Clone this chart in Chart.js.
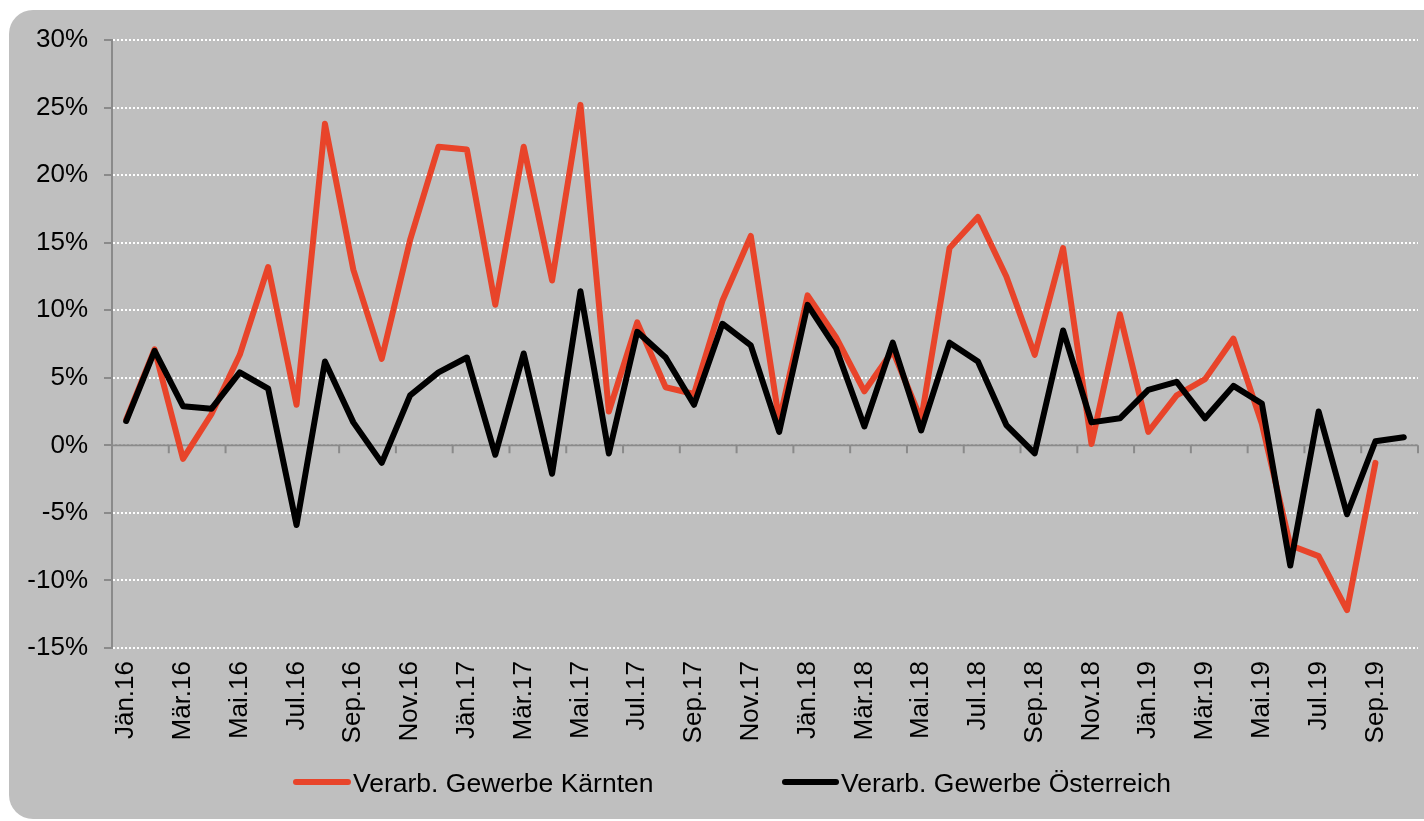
<!DOCTYPE html>
<html>
<head>
<meta charset="utf-8">
<script src="https://cdn.jsdelivr.net/npm/chart.js@4/dist/chart.umd.min.js"></script>
<style>
  html, body { margin: 0; padding: 0; background: #ffffff; }
  #wrap { position: relative; width: 1424px; height: 821px; }
</style>
</head>
<body>
<div id="wrap"><canvas id="c" width="1424" height="821"></canvas></div>
<script>
const categories = [
  "Jän.16","Feb.16","Mär.16","Apr.16","Mai.16","Jun.16","Jul.16","Aug.16","Sep.16","Okt.16","Nov.16","Dez.16",
  "Jän.17","Feb.17","Mär.17","Apr.17","Mai.17","Jun.17","Jul.17","Aug.17","Sep.17","Okt.17","Nov.17","Dez.17",
  "Jän.18","Feb.18","Mär.18","Apr.18","Mai.18","Jun.18","Jul.18","Aug.18","Sep.18","Okt.18","Nov.18","Dez.18",
  "Jän.19","Feb.19","Mär.19","Apr.19","Mai.19","Jun.19","Jul.19","Aug.19","Sep.19","Okt.19"
];
const kaernten = [
  1.9, 7.1, -1.0, 2.3, 6.7, 13.2, 3.0, 23.8, 13.0, 6.4, 15.2, 22.1,
  21.9, 10.4, 22.1, 12.2, 25.2, 2.5, 9.1, 4.3, 3.8, 10.7, 15.5, 1.8,
  11.1, 8.0, 4.0, 7.0, 1.9, 14.6, 16.9, 12.5, 6.7, 14.6, 0.1, 9.7,
  1.0, 3.7, 4.9, 7.9, 1.6, -7.4, -8.2, -12.2, -1.3, null
];
const oesterreich = [
  1.8, 7.0, 2.9, 2.7, 5.4, 4.2, -5.9, 6.2, 1.7, -1.3, 3.7, 5.4,
  6.5, -0.7, 6.8, -2.1, 11.4, -0.6, 8.4, 6.5, 3.0, 9.0, 7.4, 1.0,
  10.4, 7.2, 1.4, 7.6, 1.1, 7.6, 6.2, 1.5, -0.6, 8.5, 1.7, 2.0,
  4.1, 4.7, 2.0, 4.4, 3.1, -8.9, 2.5, -5.1, 0.3, 0.6
];
const seriesNames = ["Verarb. Gewerbe Kärnten", "Verarb. Gewerbe Österreich"];
const yTicks = { min: -15, max: 30, step: 5 };

const RED = "#e8442a";
const AXIS_GRAY = "#8a8a8a";
const FONT = "'Liberation Sans', Arial, sans-serif";

Chart.defaults.font.family = FONT;
Chart.defaults.color = "#000";

const backgroundPlugin = {
  id: "bg",
  beforeDraw(chart) {
    const ctx = chart.ctx;
    ctx.save();
    ctx.fillStyle = "#ffffff";
    ctx.fillRect(0, 0, chart.width, chart.height);
    ctx.fillStyle = "#bfbfbf";
    ctx.beginPath();
    ctx.roundRect(9, 10, 1460, 809, 24);
    ctx.fill();
    ctx.restore();
  }
};

const zeroLinePlugin = {
  id: "zeroLine",
  beforeDatasetsDraw(chart) {
    const { ctx, chartArea, scales } = chart;
    const y0 = scales.y.getPixelForValue(0);
    ctx.save();
    ctx.strokeStyle = AXIS_GRAY;
    ctx.lineWidth = 2;
    ctx.beginPath();
    ctx.moveTo(chartArea.left, y0);
    ctx.lineTo(chartArea.right, y0);
    for (let i = 0; i <= categories.length; i += 2) {
      const x = scales.x.getPixelForValue(i - 0.5);
      ctx.moveTo(x, y0);
      ctx.lineTo(x, y0 + 8);
    }
    ctx.stroke();
    ctx.restore();
  }
};

const legendPlugin = {
  id: "customLegend",
  afterDraw(chart) {
    const ctx = chart.ctx;
    const pos = [
      { x1: 296, x2: 348, tx: 353 },
      { x1: 785, x2: 836, tx: 841 }
    ];
    const y = 782;
    ctx.save();
    ctx.font = "26.5px " + FONT;
    ctx.textBaseline = "alphabetic";
    ctx.textAlign = "left";
    chart.data.datasets.forEach((ds, i) => {
      const p = pos[i];
      ctx.strokeStyle = ds.borderColor;
      ctx.lineWidth = 6;
      ctx.lineCap = "round";
      ctx.beginPath();
      ctx.moveTo(p.x1, y);
      ctx.lineTo(p.x2, y);
      ctx.stroke();
      ctx.fillStyle = "#000";
      ctx.fillText(ds.label, p.tx, y + 10);
    });
    ctx.restore();
  }
};

new Chart(document.getElementById("c"), {
  type: "line",
  data: {
    labels: categories,
    datasets: [
      {
        label: seriesNames[0],
        data: kaernten,
        borderColor: RED,
        backgroundColor: RED,
        borderWidth: 6,
        pointRadius: 0,
        borderJoinStyle: "round",
        borderCapStyle: "round",
        tension: 0,
        order: 1
      },
      {
        label: seriesNames[1],
        data: oesterreich,
        borderColor: "#000000",
        backgroundColor: "#000000",
        borderWidth: 6,
        pointRadius: 0,
        borderJoinStyle: "round",
        borderCapStyle: "round",
        tension: 0,
        order: 0
      }
    ]
  },
  options: {
    responsive: false,
    animation: false,
    devicePixelRatio: 1,
    layout: { padding: { top: 40, right: 6, bottom: 0, left: 0 } },
    plugins: {
      legend: { display: false },
      tooltip: { enabled: false }
    },
    scales: {
      x: {
        type: "category",
        offset: true,
        grid: { display: false, drawTicks: false },
        border: { display: false },
        ticks: {
          autoSkip: false,
          minRotation: 90,
          maxRotation: 90,
          padding: 13,
          font: { size: 26 },
          color: "#000",
          callback: function (val, i) { return i % 2 === 0 ? categories[i] : null; }
        },
        afterFit(scale) { scale.height = 173; }
      },
      y: {
        min: yTicks.min,
        max: yTicks.max,
        ticks: {
          stepSize: yTicks.step,
          padding: 16,
          font: { size: 26 },
          color: "#000",
          callback: v => v + "%"
        },
        grid: {
          color: "#ffffff",
          lineWidth: 2,
          drawTicks: true,
          tickLength: 8,
          tickColor: AXIS_GRAY,
          tickWidth: 2
        },
        border: { display: true, color: AXIS_GRAY, width: 2, dash: [2, 2] },
        afterFit(scale) { scale.width = 112; }
      }
    }
  },
  plugins: [backgroundPlugin, zeroLinePlugin, legendPlugin]
});
</script>
</body>
</html>
